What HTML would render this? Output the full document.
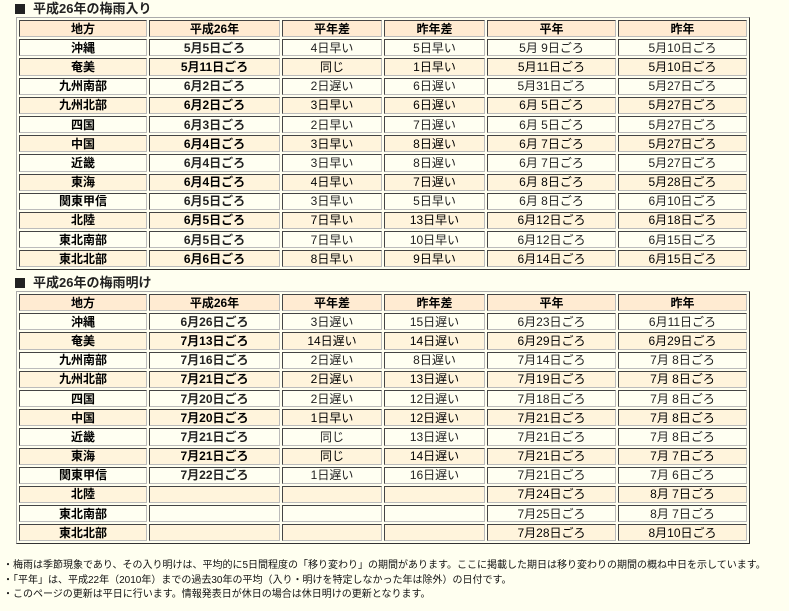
<!DOCTYPE html>
<html><head><meta charset="utf-8"><style>
body{margin:0;width:789px;height:611px;background:#fffff0;font-family:"Liberation Sans","Noto Sans CJK JP",sans-serif;overflow:hidden;position:relative}
.t{position:absolute;left:3px;font-size:13px;font-weight:bold;color:#222;line-height:15px}
.t span{display:inline-block;width:10px;height:10px;background:#222;margin:0 8px 0 12px;vertical-align:-1px}
table{position:absolute;left:16px;border:1px solid;border-color:#aaa #333 #333 #aaa;border-collapse:separate;border-spacing:2px;table-layout:fixed;width:733px}
td{border:1px solid;border-color:#444 #bbb #bbb #444;height:15.2px;padding:0;text-align:center;font-size:12px;line-height:14px;color:#222;background:#fffff2;white-space:nowrap;overflow:hidden}
tr.h td{background:#ffebd2;font-weight:bold;color:#000}
tr.e td{background:#fff4dc;color:#000}
td:first-child{font-weight:bold;color:#000}
td:nth-child(2){font-weight:bold}
.n{position:absolute;left:3px;font-size:10px;color:#111;line-height:14.5px;top:559px}
</style></head><body>
<div class="t" style="top:1px"><span></span>平成26年の梅雨入り</div>
<table style="top:17px">
<colgroup><col style="width:128px"><col style="width:131px"><col style="width:100px"><col style="width:101px"><col style="width:129px"><col style="width:129px"></colgroup>
<tr class="h"><td>地方</td><td>平成26年</td><td>平年差</td><td>昨年差</td><td>平年</td><td>昨年</td></tr>
<tr><td>沖縄</td><td>5月5日ごろ</td><td>4日早い</td><td>5日早い</td><td>5月 9日ごろ</td><td>5月10日ごろ</td></tr>
<tr class="e"><td>奄美</td><td>5月11日ごろ</td><td>同じ</td><td>1日早い</td><td>5月11日ごろ</td><td>5月10日ごろ</td></tr>
<tr><td>九州南部</td><td>6月2日ごろ</td><td>2日遅い</td><td>6日遅い</td><td>5月31日ごろ</td><td>5月27日ごろ</td></tr>
<tr class="e"><td>九州北部</td><td>6月2日ごろ</td><td>3日早い</td><td>6日遅い</td><td>6月 5日ごろ</td><td>5月27日ごろ</td></tr>
<tr><td>四国</td><td>6月3日ごろ</td><td>2日早い</td><td>7日遅い</td><td>6月 5日ごろ</td><td>5月27日ごろ</td></tr>
<tr class="e"><td>中国</td><td>6月4日ごろ</td><td>3日早い</td><td>8日遅い</td><td>6月 7日ごろ</td><td>5月27日ごろ</td></tr>
<tr><td>近畿</td><td>6月4日ごろ</td><td>3日早い</td><td>8日遅い</td><td>6月 7日ごろ</td><td>5月27日ごろ</td></tr>
<tr class="e"><td>東海</td><td>6月4日ごろ</td><td>4日早い</td><td>7日遅い</td><td>6月 8日ごろ</td><td>5月28日ごろ</td></tr>
<tr><td>関東甲信</td><td>6月5日ごろ</td><td>3日早い</td><td>5日早い</td><td>6月 8日ごろ</td><td>6月10日ごろ</td></tr>
<tr class="e"><td>北陸</td><td>6月5日ごろ</td><td>7日早い</td><td>13日早い</td><td>6月12日ごろ</td><td>6月18日ごろ</td></tr>
<tr><td>東北南部</td><td>6月5日ごろ</td><td>7日早い</td><td>10日早い</td><td>6月12日ごろ</td><td>6月15日ごろ</td></tr>
<tr class="e"><td>東北北部</td><td>6月6日ごろ</td><td>8日早い</td><td>9日早い</td><td>6月14日ごろ</td><td>6月15日ごろ</td></tr>
</table>
<div class="t" style="top:275px"><span></span>平成26年の梅雨明け</div>
<table style="top:291px">
<colgroup><col style="width:128px"><col style="width:131px"><col style="width:100px"><col style="width:101px"><col style="width:129px"><col style="width:129px"></colgroup>
<tr class="h"><td>地方</td><td>平成26年</td><td>平年差</td><td>昨年差</td><td>平年</td><td>昨年</td></tr>
<tr><td>沖縄</td><td>6月26日ごろ</td><td>3日遅い</td><td>15日遅い</td><td>6月23日ごろ</td><td>6月11日ごろ</td></tr>
<tr class="e"><td>奄美</td><td>7月13日ごろ</td><td>14日遅い</td><td>14日遅い</td><td>6月29日ごろ</td><td>6月29日ごろ</td></tr>
<tr><td>九州南部</td><td>7月16日ごろ</td><td>2日遅い</td><td>8日遅い</td><td>7月14日ごろ</td><td>7月 8日ごろ</td></tr>
<tr class="e"><td>九州北部</td><td>7月21日ごろ</td><td>2日遅い</td><td>13日遅い</td><td>7月19日ごろ</td><td>7月 8日ごろ</td></tr>
<tr><td>四国</td><td>7月20日ごろ</td><td>2日遅い</td><td>12日遅い</td><td>7月18日ごろ</td><td>7月 8日ごろ</td></tr>
<tr class="e"><td>中国</td><td>7月20日ごろ</td><td>1日早い</td><td>12日遅い</td><td>7月21日ごろ</td><td>7月 8日ごろ</td></tr>
<tr><td>近畿</td><td>7月21日ごろ</td><td>同じ</td><td>13日遅い</td><td>7月21日ごろ</td><td>7月 8日ごろ</td></tr>
<tr class="e"><td>東海</td><td>7月21日ごろ</td><td>同じ</td><td>14日遅い</td><td>7月21日ごろ</td><td>7月 7日ごろ</td></tr>
<tr><td>関東甲信</td><td>7月22日ごろ</td><td>1日遅い</td><td>16日遅い</td><td>7月21日ごろ</td><td>7月 6日ごろ</td></tr>
<tr class="e"><td>北陸</td><td></td><td></td><td></td><td>7月24日ごろ</td><td>8月 7日ごろ</td></tr>
<tr><td>東北南部</td><td></td><td></td><td></td><td>7月25日ごろ</td><td>8月 7日ごろ</td></tr>
<tr class="e"><td>東北北部</td><td></td><td></td><td></td><td>7月28日ごろ</td><td>8月10日ごろ</td></tr>
</table>
<div class="n">・梅雨は季節現象であり、その入り明けは、平均的に5日間程度の「移り変わり」の期間があります。ここに掲載した期日は移り変わりの期間の概ね中日を示しています。<br>・「平年」は、平成22年（2010年）までの過去30年の平均（入り・明けを特定しなかった年は除外）の日付です。<br>・このページの更新は平日に行います。情報発表日が休日の場合は休日明けの更新となります。</div>
</body></html>
